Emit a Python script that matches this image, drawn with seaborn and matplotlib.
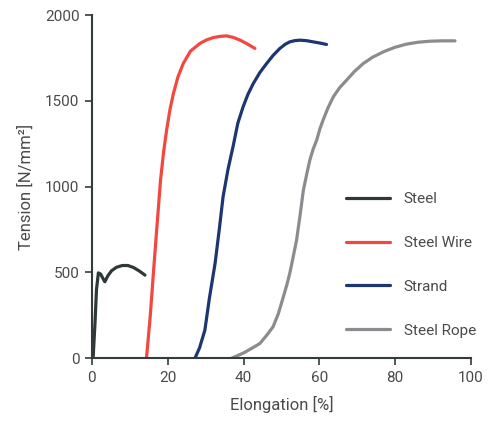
import numpy as np
import pandas as pd
import matplotlib.pyplot as plt
import seaborn as sns

# values (elongation %, tension N/mm²)
steel_x = [0.3, 0.8, 1.2, 1.7, 2.3, 2.9, 3.4, 4.2, 5.2, 6.5, 8.0, 9.5, 11.0, 12.5, 14.0]
steel_y = [0, 200, 400, 497, 490, 465, 445, 480, 510, 530, 540, 540, 528, 508, 484]

wire_x = [14.4, 15.4, 16.3, 17.2, 18.1, 18.9, 19.7, 20.6, 21.5, 22.7, 24.1, 26.0, 28.5, 30.2, 32.0, 33.8, 35.5, 37.3, 39.1, 41.0, 43.0]
wire_y = [0, 250, 520, 780, 1038, 1200, 1329, 1450, 1543, 1640, 1718, 1790, 1835, 1855, 1869, 1876, 1879, 1870, 1854, 1832, 1806]

strand_x = [27.2, 28.4, 29.8, 31.0, 32.5, 33.6, 34.6, 35.9, 37.3, 38.5, 39.9, 41.2, 42.6, 44.3, 46.1, 47.8, 49.6, 51.0, 52.2, 53.5, 54.9, 56.6, 58.4, 60.2, 61.9]
strand_y = [0, 60, 163, 350, 553, 750, 940, 1100, 1240, 1370, 1466, 1540, 1602, 1665, 1718, 1765, 1806, 1830, 1844, 1851, 1854, 1851, 1844, 1837, 1829]

rope_x = [36.9, 40.0, 42.0, 44.3, 46.0, 47.8, 49.2, 50.5, 51.4, 52.2, 53.1, 54.0, 54.9, 55.8, 56.7, 57.5, 58.4, 59.3, 60.2, 61.0, 62.3, 63.7, 65.4, 67.2, 69.3, 71.6, 74.1, 76.9, 79.9, 83.0, 86.1, 89.2, 92.5, 95.8]
rope_y = [0, 30, 55, 85, 130, 183, 260, 357, 425, 494, 590, 688, 830, 980, 1075, 1155, 1220, 1271, 1340, 1388, 1460, 1524, 1578, 1621, 1672, 1718, 1755, 1786, 1812, 1831, 1842, 1848, 1850, 1850]

materials = ["Steel", "Steel Wire", "Strand", "Steel Rope"]
colors = ["#2f3838", "#f2483f", "#1d3571", "#8c8c90"]

frames = []
for name, xs, ys in zip(materials, [steel_x, wire_x, strand_x, rope_x],
                        [steel_y, wire_y, strand_y, rope_y]):
    frames.append(pd.DataFrame({"Elongation": xs, "Tension": ys, "Material": name}))
df = pd.concat(frames, ignore_index=True)

sns.set_style("ticks")
plt.rcParams["font.family"] = ["Roboto", "DejaVu Sans"]
text_color = "#4a4a4a"
axis_color = "#333b3b"

fig = plt.figure(figsize=(4.89, 4.32), dpi=100)
ax = fig.add_axes([0.188, 0.171, 0.775, 0.794])

sns.lineplot(data=df, x="Elongation", y="Tension", hue="Material",
             hue_order=materials, palette=colors, sort=False, estimator=None,
             linewidth=2.3, ax=ax)
for line in ax.lines:
    line.set_solid_joinstyle("round")
    line.set_solid_capstyle("round")

ax.set_xlim(0, 100)
ax.set_ylim(0, 2000)
ax.set_xticks(range(0, 101, 20))
ax.set_yticks(range(0, 2001, 500))
sns.despine(ax=ax)
for side in ["left", "bottom"]:
    ax.spines[side].set_color(axis_color)
    ax.spines[side].set_linewidth(1.5)
ax.tick_params(axis="both", colors=axis_color, labelcolor=text_color,
               labelsize=11, length=5, width=1.2, pad=4)

ax.set_xlabel("Elongation [%]", fontsize=12, color=text_color, labelpad=8)
ax.set_ylabel("Tension [N/mm²]", fontsize=12, color=text_color, labelpad=8)

ax.legend(loc="lower right", bbox_to_anchor=(1.05, 0.02), frameon=False,
          fontsize=11, handlelength=2.9, labelspacing=1.95, handletextpad=0.9,
          labelcolor=text_color)

fig.savefig("out.png", dpi=100)
